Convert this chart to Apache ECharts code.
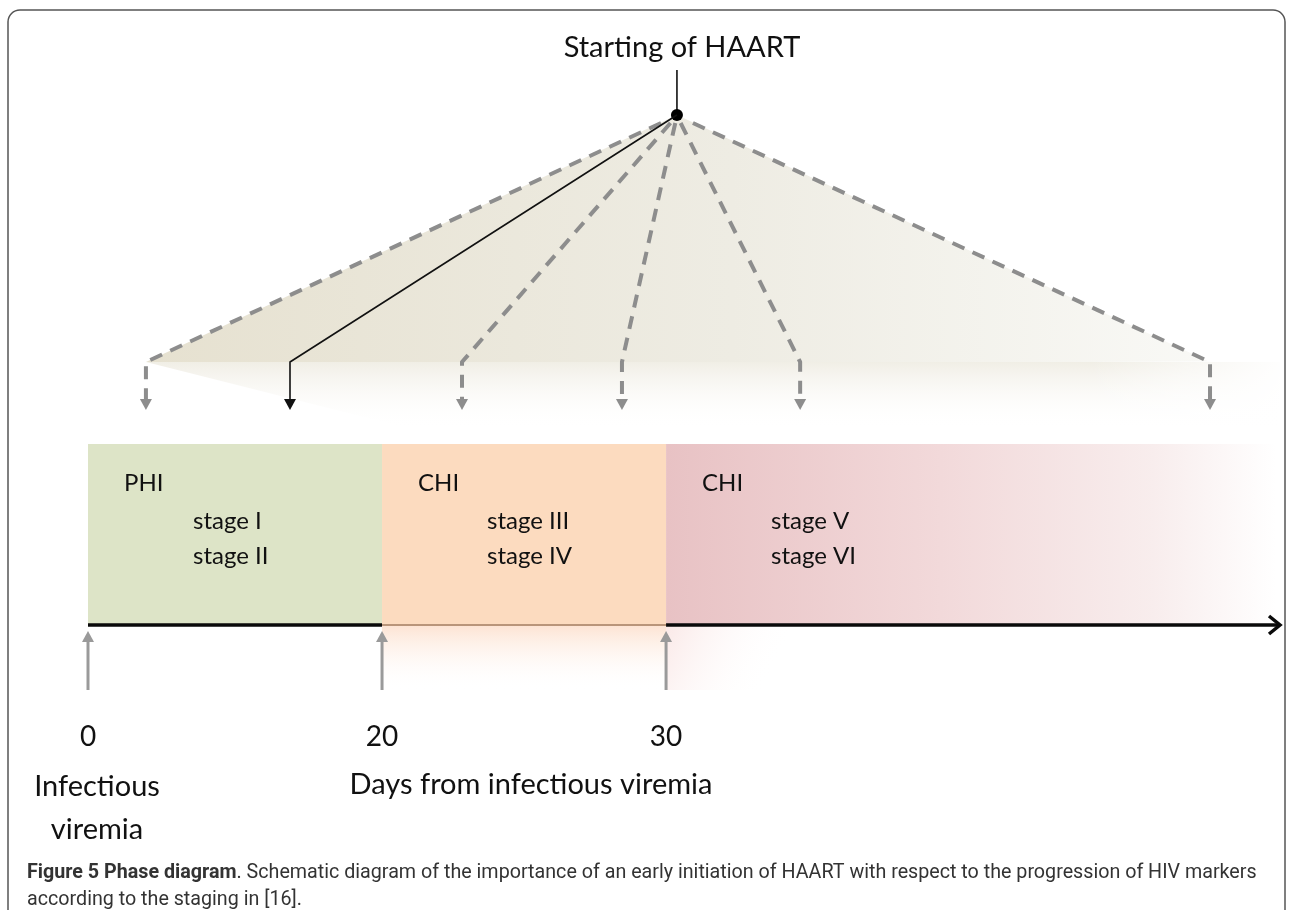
<!DOCTYPE html>
<html>
<head>
<meta charset="utf-8">
<title>Phase diagram</title>
<script src="https://cdn.jsdelivr.net/npm/echarts@6/dist/echarts.min.js"></script>
<style>
  html, body { margin: 0; padding: 0; background: #fff; }
  #main { width: 1292px; height: 910px; }
</style>
</head>
<body>
<div id="main"></div>
<script>
// schematic units: x = position along the time line (0, 20, 30 days), y = height above the axis
const dayTicks = ['0', '20', '30'];
const phaseStart = [0, 1, 1.966];
const phaseEnd = [1, 1.966, 4.04];
const phaseNames = ['PHI', 'CHI', 'CHI'];
const phaseStages = [['stage I', 'stage II'], ['stage III', 'stage IV'], ['stage V', 'stage VI']];
const haartPoint = [2.003, 51];
const haartTop = 55.5;
const haartTargets = [0.197, 0.687, 1.272, 1.816, 2.422, 3.816];
const solidTarget = 1; // index of the solid arrow
const elbowLevel = 26.3;
const arrowLevel = 21.5;
const bandTop = 18.1;
const axisEnd = 4.054;

const chart = echarts.init(document.getElementById('main'));
const FONT = 'Lato, "Open Sans", sans-serif';

const fanSeries = {
  type: 'custom',
  z: 1,
  silent: true,
  data: [[haartPoint[0], haartPoint[1]]],
  renderItem: function (params, api) {
    const apex = api.coord(haartPoint);
    const left = api.coord([haartTargets[0], elbowLevel]);
    const right = api.coord([haartTargets[haartTargets.length - 1], elbowLevel]);
    const lowRight = api.coord([axisEnd, bandTop + 1.5]);
    const lowMid = api.coord([1.1, bandTop + 1.5]);
    return {
      type: 'group',
      children: [
        {
          type: 'polygon',
          shape: { points: [apex, left, right] },
          style: {
            fill: {
              type: 'linear', x: 0, y: 0, x2: 1, y2: 0,
              colorStops: [
                { offset: 0, color: '#e6e1d0' },
                { offset: 0.55, color: '#eeece3' },
                { offset: 1, color: '#f9f9f6' }
              ]
            }
          }
        },
        {
          type: 'polygon',
          shape: { points: [left, [right[0] + 70, right[1]], lowRight, lowMid] },
          style: {
            fill: {
              type: 'linear', x: 0, y: 0, x2: 0, y2: 1,
              colorStops: [
                { offset: 0, color: 'rgba(238,235,225,0.85)' },
                { offset: 1, color: 'rgba(255,255,255,0)' }
              ]
            }
          }
        },
        {
          type: 'rect',
          shape: { x: right[0] - 120, y: right[1] - 1, width: 200, height: lowRight[1] - right[1] + 2 },
          style: {
            fill: {
              type: 'linear', x: 0, y: 0, x2: 1, y2: 0,
              colorStops: [
                { offset: 0, color: 'rgba(255,255,255,0)' },
                { offset: 1, color: 'rgba(255,255,255,1)' }
              ]
            }
          }
        }
      ]
    };
  }
};

const bandSeries = {
  type: 'custom',
  z: 2,
  silent: true,
  data: phaseStart.map(function (s, i) { return [s, phaseEnd[i], i]; }),
  renderItem: function (params, api) {
    const i = api.value(2);
    const p0 = api.coord([api.value(0), bandTop]);
    const p1 = api.coord([api.value(1), 0]);
    let fill;
    if (i === 0) fill = '#dde4c7';
    else if (i === 1) fill = '#fcdbbf';
    else fill = {
      type: 'linear', x: 0, y: 0, x2: 1, y2: 0,
      colorStops: [
        { offset: 0, color: '#e8c2c4' },
        { offset: 0.45, color: '#f2d9da' },
        { offset: 0.8, color: '#f8eded' },
        { offset: 1, color: '#ffffff' }
      ]
    };
    const textStyle = { fill: '#111', fontSize: 24, fontFamily: FONT, verticalAlign: 'middle' };
    const stages = phaseStages[i];
    const yName = api.coord([0, 14.2])[1];
    const yS1 = api.coord([0, 10.4])[1];
    const yS2 = api.coord([0, 6.9])[1];
    return {
      type: 'group',
      children: [
        { type: 'rect', shape: { x: p0[0], y: p0[1], width: p1[0] - p0[0], height: p1[1] - p0[1] }, style: { fill: fill } },
        { type: 'text', x: p0[0] + 36, y: yName, style: Object.assign({ text: phaseNames[i] }, textStyle) },
        { type: 'text', x: p0[0] + 105, y: yS1, style: Object.assign({ text: stages[0] }, textStyle) },
        { type: 'text', x: p0[0] + 105, y: yS2, style: Object.assign({ text: stages[1] }, textStyle) }
      ]
    };
  }
};

const glowSeries = {
  type: 'custom',
  z: 1,
  silent: true,
  data: [[phaseStart[1], phaseStart[2], 2.6]],
  renderItem: function (params, api) {
    const p0 = api.coord([api.value(0), 0]);
    const p1 = api.coord([api.value(1), -6.5]);
    const p2 = api.coord([api.value(2), -6.5]);
    return {
      type: 'group',
      children: [
        {
          type: 'rect',
          shape: { x: p0[0], y: p0[1], width: p1[0] - p0[0], height: p1[1] - p0[1] },
          style: {
            fill: {
              type: 'linear', x: 0, y: 0, x2: 0, y2: 1,
              colorStops: [
                { offset: 0, color: 'rgba(252,218,196,0.75)' },
                { offset: 1, color: 'rgba(255,255,255,0)' }
              ]
            }
          }
        },
        {
          type: 'rect',
          shape: { x: p1[0], y: p0[1], width: p2[0] - p1[0], height: p1[1] - p0[1] },
          style: {
            fill: {
              type: 'linear', x: 0, y: 0, x2: 0.55, y2: 0.85,
              colorStops: [
                { offset: 0, color: 'rgba(246,214,212,0.55)' },
                { offset: 1, color: 'rgba(255,255,255,0)' }
              ]
            }
          }
        }
      ]
    };
  }
};

const axisSeries = {
  type: 'custom',
  z: 3,
  silent: true,
  data: phaseStart.map(function (s, i) { return [s, i]; }),
  renderItem: function (params, api) {
    const i = api.value(1);
    const x = api.value(0);
    const a = api.coord([x, 0]);
    const endX = i < 2 ? phaseEnd[i] : axisEnd;
    const b = api.coord([endX, 0]);
    const bottom = api.coord([x, -6.5]);
    const children = [
      {
        type: 'line',
        shape: { x1: a[0], y1: a[1], x2: b[0] - (i === 2 ? 2 : 0), y2: b[1] },
        style: { stroke: i === 1 ? '#b9957a' : '#0a0a0a', lineWidth: i === 1 ? 2 : 3.5 }
      },
      {
        type: 'line',
        shape: { x1: bottom[0], y1: bottom[1], x2: a[0], y2: a[1] + 14 },
        style: { stroke: '#9a9a9a', lineWidth: 3 }
      },
      {
        type: 'polygon',
        shape: { points: [[a[0] - 6, a[1] + 17], [a[0] + 6, a[1] + 17], [a[0], a[1] + 6]] },
        style: { fill: '#9a9a9a' }
      }
    ];
    if (i === 2) {
      children.push({
        type: 'polyline',
        shape: { points: [[b[0] - 11, b[1] - 9], [b[0], b[1]], [b[0] - 11, b[1] + 9]] },
        style: { stroke: '#0a0a0a', lineWidth: 3.5, fill: null }
      });
    }
    return { type: 'group', children: children };
  }
};

const haartSeries = {
  type: 'custom',
  z: 4,
  silent: true,
  data: haartTargets.map(function (x, i) { return [x, i]; }),
  renderItem: function (params, api) {
    const i = api.value(1);
    const apex = api.coord(haartPoint);
    const elbow = api.coord([api.value(0), elbowLevel]);
    const tip = api.coord([api.value(0), arrowLevel]);
    const solid = i === solidTarget;
    const color = solid ? '#111' : '#8d8d8d';
    const children = [
      {
        type: 'polyline',
        shape: { points: [solid ? apex : [apex[0] + (elbow[0] - apex[0]) * 0.03, apex[1] + 8], elbow, [tip[0], tip[1] - 9]] },
        style: {
          stroke: color,
          lineWidth: solid ? 1.6 : 4,
          lineDash: solid ? null : [13, 9],
          lineJoin: 'round',
          fill: null
        }
      },
      {
        type: 'polygon',
        shape: { points: [[tip[0] - 6, tip[1] - 11], [tip[0] + 6, tip[1] - 11], [tip[0], tip[1]]] },
        style: { fill: color }
      }
    ];
    if (i === 0) {
      const top = api.coord([haartPoint[0], haartTop]);
      children.push(
        { type: 'line', shape: { x1: top[0], y1: top[1], x2: apex[0], y2: apex[1] }, style: { stroke: '#111', lineWidth: 1.6 } },
        { type: 'circle', shape: { cx: apex[0], cy: apex[1], r: 6 }, style: { fill: '#000' } }
      );
    }
    return { type: 'group', children: children };
  }
};

const captionFont = 'Roboto, "Liberation Sans", sans-serif';

chart.setOption({
  animation: false,
  backgroundColor: '#ffffff',
  title: [
    {
      text: 'Starting of HAART', left: 677, top: 28, textAlign: 'center',
      textStyle: { fontFamily: FONT, fontWeight: 'normal', fontSize: 29, color: '#111' }
    },
    {
      text: 'Days from infectious viremia', left: 526, top: 765, textAlign: 'center',
      textStyle: { fontFamily: FONT, fontWeight: 'normal', fontSize: 29, color: '#111' }
    },
    {
      text: 'Infectious', left: 92, top: 767, textAlign: 'center',
      textStyle: { fontFamily: FONT, fontWeight: 'normal', fontSize: 29, color: '#111' }
    },
    {
      text: 'viremia', left: 92, top: 810, textAlign: 'center',
      textStyle: { fontFamily: FONT, fontWeight: 'normal', fontSize: 29, color: '#111' }
    },
    {
      text: '{b|Figure 5 Phase diagram}. Schematic diagram of the importance of an early initiation of HAART with respect to the progression of HIV markers\naccording to the staging in [16].',
      left: 22, top: 855,
      textStyle: {
        fontFamily: captionFont, fontWeight: 'normal', fontSize: 19.7,
        color: '#333', lineHeight: 27,
        rich: { b: { fontFamily: captionFont, fontWeight: 'bold', fontSize: 19.7, color: '#333' } }
      }
    }
  ],
  graphic: [
    {
      type: 'rect', z: 100, silent: true,
      shape: { x: 8, y: 10, width: 1277, height: 1000, r: 12 },
      style: { fill: null, stroke: '#555', lineWidth: 1.5 }
    }
  ],
  grid: { left: 88, top: 70, width: 1192, height: 620 },
  xAxis: {
    type: 'value', min: 0, max: axisEnd,
    axisLine: { show: false }, axisTick: { show: false }, splitLine: { show: false },
    axisLabel: {
      customValues: phaseStart,
      formatter: function (v) {
        const idx = phaseStart.indexOf(v);
        return idx >= 0 ? dayTicks[idx] : '';
      },
      margin: 33, fontSize: 28, color: '#111', fontFamily: FONT
    }
  },
  yAxis: {
    type: 'value', min: -6.5, max: 55.5, show: false
  },
  series: [fanSeries, glowSeries, bandSeries, axisSeries, haartSeries]
});
</script>
</body>
</html>
